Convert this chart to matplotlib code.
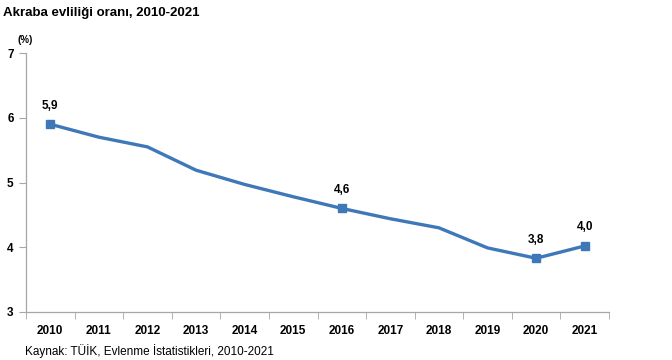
import matplotlib.pyplot as plt
import numpy as np

plt.rcParams['font.family'] = ['Liberation Sans', 'DejaVu Sans']

# data
years = ["2010", "2011", "2012", "2013", "2014", "2015",
         "2016", "2017", "2018", "2019", "2020", "2021"]
rate = [5.9, 5.7, 5.55, 5.19, 4.97, 4.78, 4.6, 4.44, 4.3, 3.99, 3.83, 4.02]
labelled = ["2010", "2016", "2020", "2021"]
label_text = ["5,9", "4,6", "3,8", "4,0"]

blue = "#3f78b8"
axis_gray = "#a6a6a6"

fig = plt.figure(figsize=(6.72, 3.6), dpi=100)
ax = fig.add_axes([26 / 672, 1 - 312 / 360, (609 - 26) / 672, (312 - 53) / 360])

x = np.arange(len(years))
ax.plot(x, rate, color=blue, lw=2.4, solid_joinstyle="round", zorder=2)

idx = [years.index(y) for y in labelled]
ax.plot(x[idx], np.array(rate)[idx], ls="none", marker="s", ms=6,
        color=blue, zorder=3)
for i, t in zip(idx, label_text):
    ax.annotate(t, (x[i], rate[i]), xytext=(0, 9), textcoords="offset points",
                ha="center", va="bottom", fontsize=8.5, fontweight="bold")

ax.set_xlim(-0.5, len(years) - 0.5)
ax.set_ylim(3, 7)
ax.set_yticks([3, 4, 5, 6, 7])
ax.set_xticks(x)
ax.set_xticklabels(years)
ax.set_xticks(np.arange(-0.5, len(years)), minor=True)

for s in ["top", "right"]:
    ax.spines[s].set_visible(False)
for s in ["left", "bottom"]:
    ax.spines[s].set_color(axis_gray)
    ax.spines[s].set_linewidth(0.9)

ax.tick_params(axis="x", which="major", length=0, pad=9, labelsize=8.5)
ax.tick_params(axis="x", which="minor", length=5, color=axis_gray)
ax.tick_params(axis="y", length=5, color=axis_gray, pad=4, labelsize=8.5)
for lab in ax.get_xticklabels() + ax.get_yticklabels():
    lab.set_fontweight("bold")

fig.text(3 / 672, 1 - 13 / 360, "Akraba evliliği oranı, 2010-2021",
         fontsize=9.5, fontweight="bold", va="center", ha="left")
fig.text(18 / 672, 1 - 40 / 360, "(%)", fontsize=7, fontweight="bold",
         va="center", ha="left")
fig.text(25 / 672, 1 - 351 / 360,
         "Kaynak: TÜİK, Evlenme İstatistikleri, 2010-2021",
         fontsize=8.5, va="center", ha="left")

fig.savefig("out.png", dpi=100, facecolor="white")
